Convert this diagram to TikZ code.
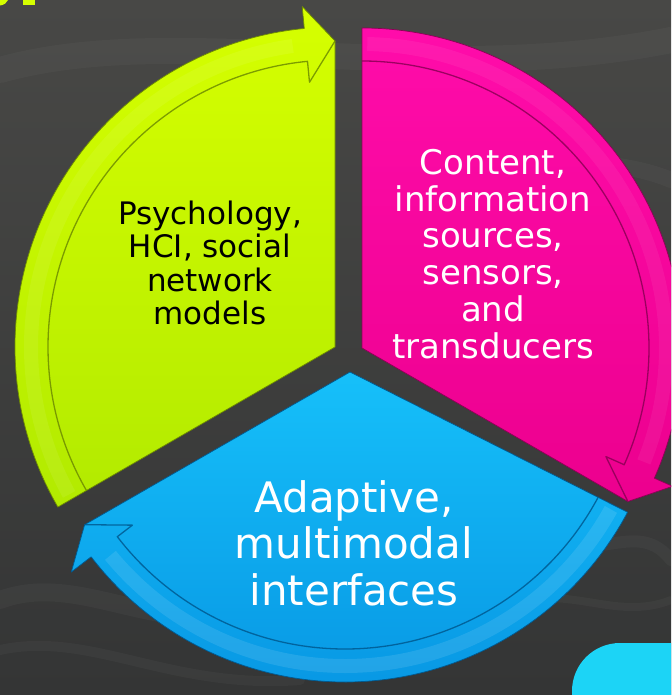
\documentclass[tikz,border=0pt]{standalone}
\usepackage{fontspec}
\setmainfont{DejaVu Sans}
\begin{document}
\begin{tikzpicture}[x=1pt,y=-1pt]
% palette
\definecolor{bgtop}{RGB}{72,72,70}
\definecolor{bglow}{RGB}{52,53,53}
\definecolor{gtop}{RGB}{214,255,0}
\definecolor{gbot}{RGB}{178,234,0}
\definecolor{gedge}{RGB}{110,140,0}
\definecolor{ptop}{RGB}{255,12,170}
\definecolor{pbot}{RGB}{236,0,142}
\definecolor{pedge}{RGB}{140,0,85}
\definecolor{btop}{RGB}{22,192,250}
\definecolor{bbot}{RGB}{8,152,228}
\definecolor{bedge}{RGB}{0,90,145}
\definecolor{cyanbox}{RGB}{28,212,246}
\tikzset{
  sector/.style={line width=0.7pt, line join=round},
  greensector/.style={sector, top color=gtop, bottom color=gbot, draw=gedge},
  pinksector/.style={sector, top color=ptop, bottom color=pbot, draw=pedge},
  bluesector/.style={sector, top color=btop, bottom color=bbot, draw=bedge},
  bandglow/.style={line width=14pt, draw=white, draw opacity=#1},
  groove/.style={line width=1.3pt, line join=round, draw opacity=0.85},
  streak/.style={draw=white, line cap=round, draw opacity=0.03},
  label/.style={align=center, inner sep=0pt}
}
\useasboundingbox (0,0) rectangle (671,695);
\clip (0,0) rectangle (671,695);

% dark water backdrop
\shade[top color=bgtop, bottom color=bglow] (0,0) rectangle (671,695);
\draw[streak, line width=26pt] (0,70) .. controls (180,20) and (420,90) .. (671,40);
\draw[streak, line width=16pt] (380,130) .. controls (500,170) and (600,150) .. (671,180);
\draw[streak, line width=18pt] (0,600) .. controls (80,570) and (160,640) .. (260,610);
\draw[streak, line width=10pt] (0,650) .. controls (90,630) and (170,690) .. (300,680);
\draw[streak, line width=12pt] (560,540) .. controls (600,560) and (640,520) .. (671,560);
\draw[streak, line width=8pt] (520,600) .. controls (580,590) and (620,620) .. (671,600);

% green fragments of the heading above
\fill[gtop] (0,0) -- (8,0) .. controls (7,3) and (4,5) .. (0,5.5) -- cycle;
\fill[gtop] (23,0) rectangle (35,5.5);

% cyan box entering at the lower right
\fill[cyanbox, rounded corners=48pt] (572,760) -- (572,643) -- (720,643) -- (720,760) -- cycle;

% green sector: arrow from lower left up to the top
\begin{scope}[shift={(335,347)}]
  \shadedraw[greensector] (0,0) -- (150:320) arc[start angle=150, end angle=264.5, radius=320]
     -- (264.5:342) -- (270:306) -- cycle;
  \draw[bandglow=0.07] (151:304) arc[start angle=151, end angle=262, radius=304];
  \draw[groove, draw=gedge] (150:287) arc[start angle=150, end angle=264.5, radius=287]
     -- (264.5:266) -- (270:306);
\end{scope}

% pink sector: arrow from the top down to the lower right
\begin{scope}[shift={(362,348)}]
  \shadedraw[pinksector] (0,0) -- (270:320) arc[start angle=270, end angle=384, radius=320]
     -- (384:340) -- (390:307) -- cycle;
  \draw[bandglow=0.06] (271:304) arc[start angle=271, end angle=382, radius=304];
  \draw[groove, draw=pedge] (270:287) arc[start angle=270, end angle=384, radius=287]
     -- (384:267) -- (390:307);
\end{scope}

% blue sector: arrow from the right round the bottom to the left
\begin{scope}[shift={(345,362)}]
  \shadedraw[bluesector] (5,10) -- (28:320) arc[start angle=28, end angle=142.5, radius=320]
     -- (142.5:345) -- (148:307) -- cycle;
  \draw[bandglow=0.10] (29:304) arc[start angle=29, end angle=140.5, radius=304];
  \draw[groove, draw=bedge] (28:287) arc[start angle=28, end angle=142.5, radius=287]
     -- (142.5:268) -- (148:307);
\end{scope}

% labels
\node[label, text=black, font=\fontsize{31}{33.5}\selectfont] (psy) at (210,263)
  {Psychology,\\HCI, social\\network\\models};
\node[label, text=white, font=\fontsize{34}{36.8}\selectfont] (content) at (493,254)
  {Content,\\information\\sources,\\sensors,\\and\\transducers};
\node[label, text=white, font=\fontsize{42}{46.5}\selectfont] (adaptive) at (354,543)
  {Adaptive,\\multimodal\\interfaces};
\end{tikzpicture}
\end{document}
